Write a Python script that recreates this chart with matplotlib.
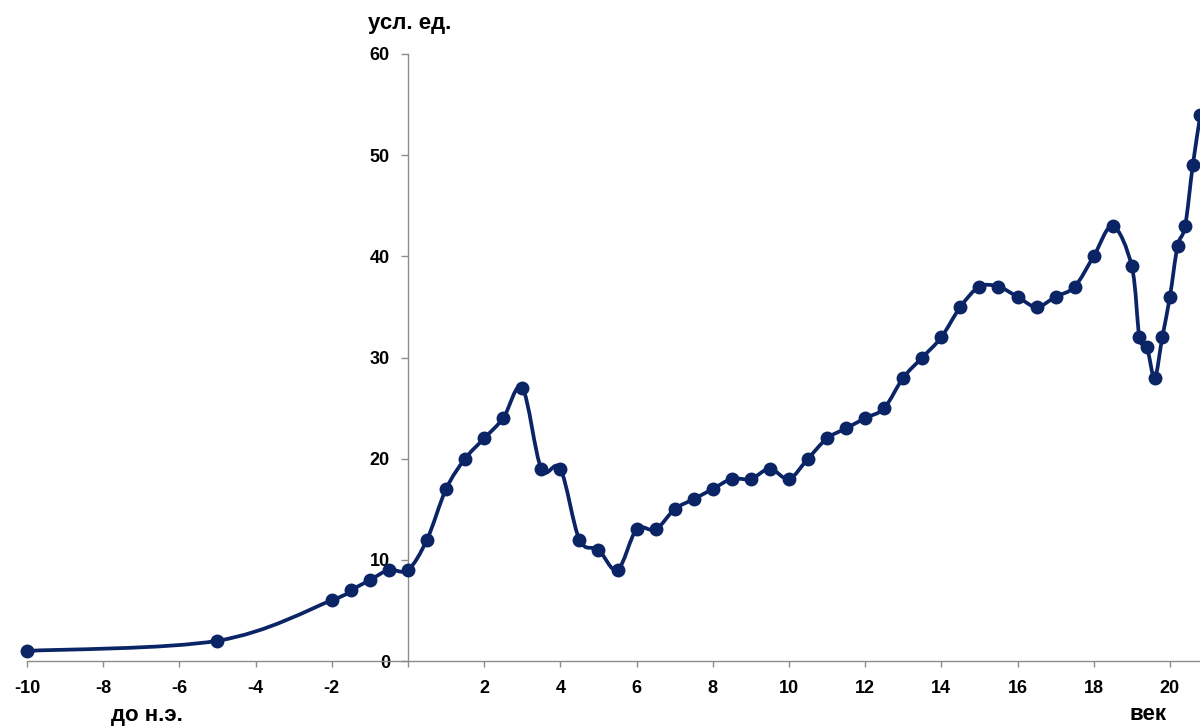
import numpy as np
import matplotlib
matplotlib.use("Agg")
import matplotlib.pyplot as plt
from matplotlib.path import Path
from matplotlib.patches import PathPatch

# Data (century, conventional units)
centuries = [-10, -5, -2, -1.5, -1, -0.5, 0, 0.5, 1, 1.5, 2, 2.5, 3, 3.5, 4, 4.5, 5, 5.5,
             6, 6.5, 7, 7.5, 8, 8.5, 9, 9.5, 10, 10.5, 11, 11.5, 12, 12.5, 13, 13.5, 14,
             14.5, 15, 15.5, 16, 16.5, 17, 17.5, 18, 18.5, 19, 19.2, 19.4, 19.6, 19.8,
             20, 20.2, 20.4, 20.6, 20.8]
values = [1, 2, 6, 7, 8, 9, 9, 12, 17, 20, 22, 24, 27, 19, 19, 12, 11, 9,
          13, 13, 15, 16, 17, 18, 18, 19, 18, 20, 22, 23, 24, 25, 28, 30, 32,
          35, 37, 37, 36, 35, 36, 37, 40, 43, 39, 32, 31, 28, 32,
          36, 41, 43, 49, 54]
xtick_vals = [-10, -8, -6, -4, -2, 0, 2, 4, 6, 8, 10, 12, 14, 16, 18, 20]
xtick_labels = ["-10", "-8", "-6", "-4", "-2", "", "2", "4", "6", "8", "10", "12", "14", "16", "18", "20"]
ytick_vals = [0, 10, 20, 30, 40, 50, 60]

plt.rcParams['font.family'] = ['Liberation Sans', 'DejaVu Sans']
plt.rcParams['font.weight'] = 'bold'

color = '#0b2465'
fig = plt.figure(figsize=(12, 7.27), dpi=100)
ax = fig.add_axes([27/1200, 1 - 661/727, 1 - 27/1200, (661 - 54)/727])
ax.set_xlim(-10, 20.79)
ax.set_ylim(0, 60)

# smooth (Excel-like) Bezier through points
P = np.column_stack([centuries, values]).astype(float)
n = len(P)
verts = [tuple(P[0])]
codes = [Path.MOVETO]
for i in range(n - 1):
    p0 = P[i - 1] if i > 0 else P[i]
    p1 = P[i]
    p2 = P[i + 1]
    p3 = P[i + 2] if i + 2 < n else P[i + 1]
    c1 = p1 + (p2 - p0) / 6.0
    c2 = p2 - (p3 - p1) / 6.0
    verts += [tuple(c1), tuple(c2), tuple(p2)]
    codes += [Path.CURVE4] * 3
patch = PathPatch(Path(verts, codes), facecolor='none', edgecolor=color, lw=2.7,
                  capstyle='round', joinstyle='round', zorder=3, clip_on=False)
ax.add_patch(patch)
ax.plot(centuries, values, 'o', color=color, markersize=9, zorder=4, clip_on=False)

for s in ['top', 'right']:
    ax.spines[s].set_visible(False)
ax.spines['left'].set_position(('data', 0))
ax.spines['bottom'].set_position(('data', 0))
for s in ['left', 'bottom']:
    ax.spines[s].set_color('#8c8c8c')
    ax.spines[s].set_linewidth(1.0)

ax.set_xticks(xtick_vals)
ax.set_xticklabels(xtick_labels)
ax.set_yticks(ytick_vals)
ax.tick_params(axis='x', direction='out', length=4.5, color='#8c8c8c', width=1, pad=9, labelsize=13)
ax.tick_params(axis='y', direction='out', length=5, color='#8c8c8c', width=1, pad=8, labelsize=13)
for lbl in ax.get_xticklabels() + ax.get_yticklabels():
    lbl.set_fontweight('bold')

fig.text(147/1200, 1 - 716/727, "до н.э.", ha='center', va='center', fontsize=16, fontweight='bold')
fig.text(1148/1200, 1 - 715/727, "век", ha='center', va='center', fontsize=16, fontweight='bold')
fig.text(410/1200, 1 - 24/727, "усл. ед.", ha='center', va='center', fontsize=16, fontweight='bold')

fig.savefig("out.png", dpi=100)
